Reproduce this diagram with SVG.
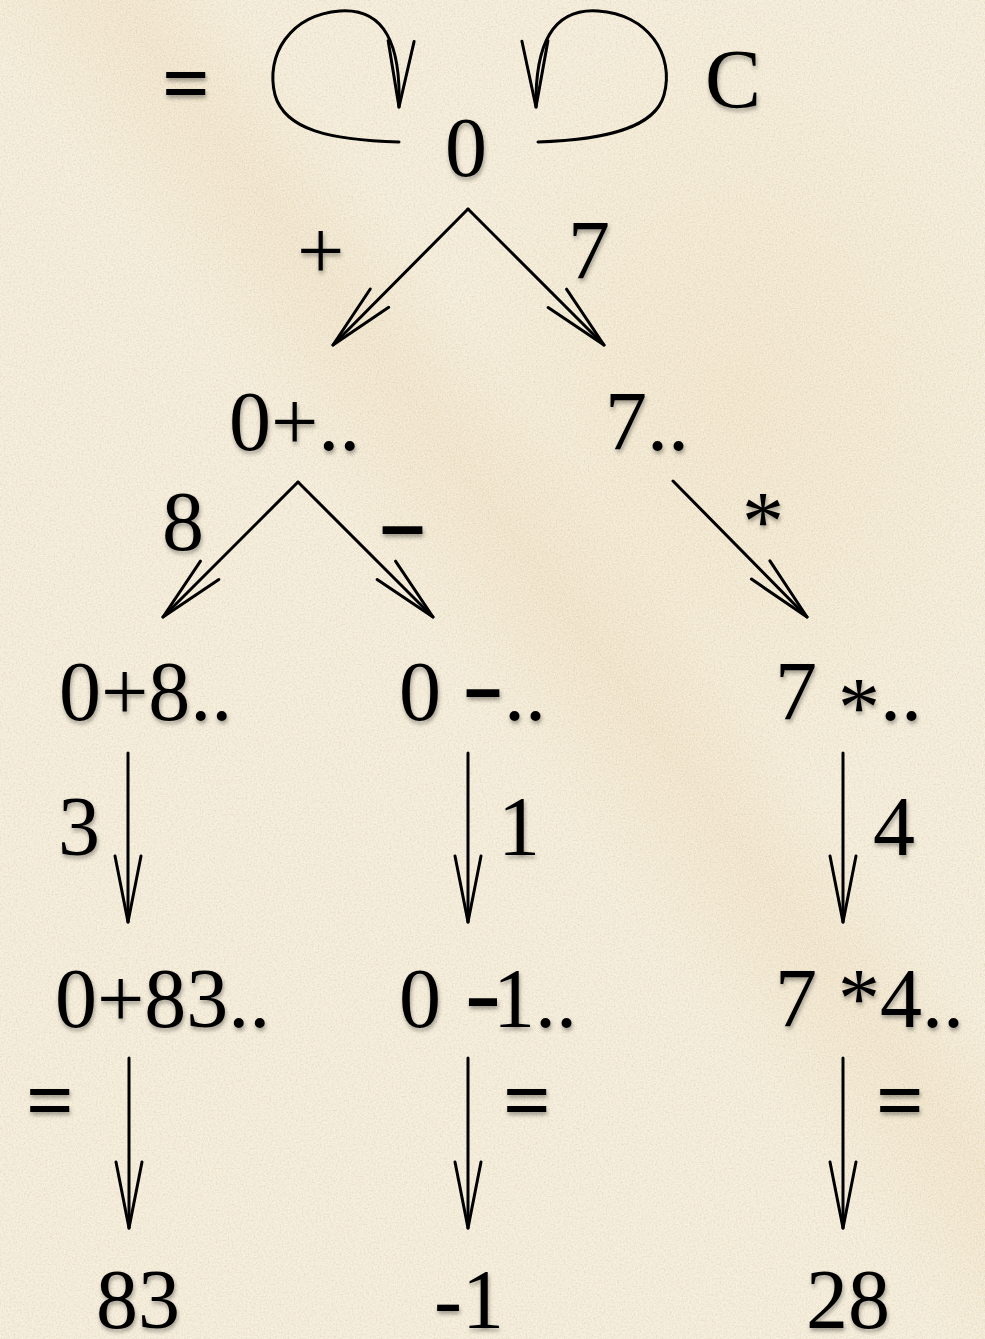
<svg xmlns="http://www.w3.org/2000/svg" width="985" height="1339" viewBox="0 0 985 1339">
<defs>
<style>
.t{font-family:"Liberation Serif","Times New Roman",serif;font-size:84px;fill:#000;filter:url(#sh)}
.b{font-weight:bold}
.d{font-weight:bold;font-size:90px}
.c{fill:none;stroke:#000;stroke-width:3;stroke-linecap:round;marker-end:url(#v)}
</style>
<marker id="v" markerUnits="userSpaceOnUse" markerWidth="80" markerHeight="40" viewBox="-70 -20 75 40" refX="0" refY="0" orient="auto" overflow="visible">
<path d="M-66,-13 L0,0 M-66,13 L0,0" fill="none" stroke="#000" stroke-width="3" stroke-linecap="round"/>
</marker>
<filter id="sh" x="-20%" y="-20%" width="140%" height="150%">
<feDropShadow dx="1" dy="3" stdDeviation="2" flood-color="#000" flood-opacity="0.35"/>
</filter>
<filter id="paper" x="0" y="0" width="100%" height="100%">
<feTurbulence type="fractalNoise" baseFrequency="0.5" numOctaves="3" seed="4"/>
<feColorMatrix type="matrix" values="0 0 0 0 0.6  0 0 0 0 0.52  0 0 0 0 0.38  0.8 0 0 0 -0.32"/>
</filter>
<filter id="paper2" x="0" y="0" width="100%" height="100%">
<feTurbulence type="fractalNoise" baseFrequency="0.85" numOctaves="2" seed="9"/>
<feColorMatrix type="matrix" values="0 0 0 0 1  0 0 0 0 1  0 0 0 0 0.97  0 1 0 0 -0.35"/>
</filter>
<radialGradient id="stain1" cx="0.75" cy="0.3" r="0.3">
<stop offset="0" stop-color="#ead3a4" stop-opacity="0.3"/>
<stop offset="1" stop-color="#ead3a4" stop-opacity="0"/>
</radialGradient>
<linearGradient id="streak" x1="0" y1="1" x2="1" y2="0">
<stop offset="0.48" stop-color="#e4c99a" stop-opacity="0"/>
<stop offset="0.56" stop-color="#e4c99a" stop-opacity="0.25"/>
<stop offset="0.62" stop-color="#e4c99a" stop-opacity="0"/>
</linearGradient>
</defs>
<g id="background">
<rect width="985" height="1339" fill="#f4ebd6"/>
<rect width="985" height="1339" fill="url(#stain1)"/>
<rect width="985" height="1339" fill="url(#streak)"/>
<rect width="985" height="1339" filter="url(#paper)"/>
<rect width="985" height="1339" filter="url(#paper2)"/>
</g>
<g id="connectors">
<path class="c" d="M399,142 C330,140 285,130 275,95 C265,55 290,15 340,11 C385,8 401,45 399,107"/>
<path class="c" d="M538,142 C605,140 655,128 664,95 C675,55 648,14 598,11 C552,8 535,45 536,107"/>
<line class="c" x1="468" y1="209" x2="333" y2="345"/>
<line class="c" x1="468" y1="209" x2="604" y2="345"/>
<line class="c" x1="298" y1="482" x2="163" y2="617"/>
<line class="c" x1="298" y1="482" x2="433" y2="617"/>
<line class="c" x1="673" y1="481" x2="807" y2="617"/>
<line class="c" x1="128" y1="753" x2="128" y2="922"/>
<line class="c" x1="468" y1="753" x2="468" y2="922"/>
<line class="c" x1="843" y1="753" x2="843" y2="922"/>
<line class="c" x1="129" y1="1058" x2="129" y2="1228"/>
<line class="c" x1="468" y1="1058" x2="468" y2="1228"/>
<line class="c" x1="843" y1="1058" x2="843" y2="1228"/>
</g>
<g id="labels">
<text class="t b" x="162" y="112">=</text>
<text class="t" x="705" y="108">C</text>
<text class="t" x="297" y="279" font-size="80">+</text>
<text class="t" x="568" y="279">7</text>
<text class="t" x="162" y="550">8</text>
<text class="t d" x="377" y="552" textLength="51" lengthAdjust="spacingAndGlyphs">-</text>
<text class="t" x="742" y="550" font-size="76">*</text>
<text class="t" x="58" y="855">3</text>
<text class="t" x="498" y="855">1</text>
<text class="t" x="873" y="855">4</text>
<text class="t b" x="26" y="1129">=</text>
<text class="t b" x="503" y="1129">=</text>
<text class="t b" x="876" y="1129">=</text>
</g>
<g id="n0"><text class="t" x="445" y="176">0</text></g>
<g id="n0plus"><text class="t" x="229" y="450">0+..</text></g>
<g id="n7"><text class="t" x="605" y="450">7..</text></g>
<g id="n0plus8"><text class="t" x="59" y="720">0+8..</text></g>
<g id="n0minus"><text class="t" x="399" y="720">0 <tspan class="d" x="462" dy="-5" textLength="42" lengthAdjust="spacingAndGlyphs">-</tspan><tspan x="504" dy="5">..</tspan></text></g>
<g id="n7times"><text class="t" x="775" y="720">7 <tspan dy="16">*</tspan><tspan dy="-16">..</tspan></text></g>
<g id="n0plus83"><text class="t" x="55" y="1027">0+83..</text></g>
<g id="n0minus1"><text class="t" x="399" y="1027">0 <tspan class="d" x="465" dy="-3" textLength="36" lengthAdjust="spacingAndGlyphs">-</tspan><tspan x="493" dy="3">1..</tspan></text></g>
<g id="n7times4"><text class="t" x="775" y="1027">7 *4..</text></g>
<g id="r83"><text class="t" x="96" y="1328">83</text></g>
<g id="rm1"><text class="t" x="434" y="1328">-1</text></g>
<g id="r28"><text class="t" x="806" y="1328">28</text></g>
</svg>
